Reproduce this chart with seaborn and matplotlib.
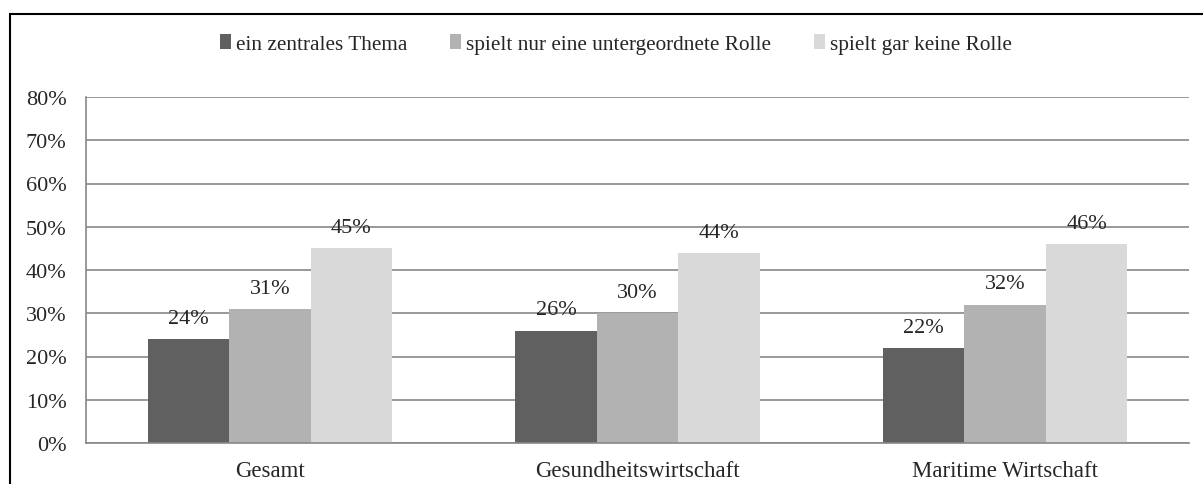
import pandas as pd
import seaborn as sns
import matplotlib.pyplot as plt
from matplotlib.patches import Rectangle

# chart values
groups = ['Gesamt', 'Gesundheitswirtschaft', 'Maritime Wirtschaft']
series = ['ein zentrales Thema', 'spielt nur eine untergeordnete Rolle', 'spielt gar keine Rolle']
zentral = [0.24, 0.26, 0.22]
untergeordnet = [0.31, 0.30, 0.32]
keine = [0.45, 0.44, 0.46]
colors = ['#606060', '#b2b2b2', '#d9d9d9']

df = pd.DataFrame({
    'group': groups * 3,
    'series': [series[0]] * 3 + [series[1]] * 3 + [series[2]] * 3,
    'value': zentral + untergeordnet + keine,
})

sns.set_style('white')
plt.rcParams['font.family'] = ['Liberation Serif', 'DejaVu Serif']

fig = plt.figure(figsize=(12.03, 4.85), dpi=100)
ax = fig.add_axes([86 / 1203, 1 - 444 / 485, (1189 - 86) / 1203, (444 - 98) / 485])

sns.barplot(data=df, x='group', y='value', hue='series', order=groups, hue_order=series,
            palette=colors, saturation=1, width=0.664, linewidth=0, ax=ax, legend=True)

# value labels
for cont in ax.containers:
    ax.bar_label(cont, labels=['%d%%' % round(v * 100) for v in cont.datavalues],
                 padding=8, fontsize=16)

ax.set_ylim(0, 0.8)
ax.set_xlim(-0.5, 2.5)
ax.set_yticks([i / 10 for i in range(9)])
ax.set_yticklabels(['%d%%' % (i * 10) for i in range(9)], fontsize=16)
ax.yaxis.grid(True, color='#888888', linewidth=1.2)
ax.set_axisbelow(True)
ax.tick_params(axis='y', length=6, color='#888888', width=1.2, pad=8)
ax.tick_params(axis='x', which='major', length=0, labelsize=16.5, pad=12)
ax.set_xticks([-0.5, 0.5, 1.5, 2.5], minor=True)
ax.tick_params(axis='x', which='minor', length=6, color='#888888', width=1.2, direction='out')
ax.set_xlabel('')
ax.set_ylabel('')
for s in ['top', 'right']:
    ax.spines[s].set_visible(False)
for s in ['left', 'bottom']:
    ax.spines[s].set_color('#888888')
    ax.spines[s].set_linewidth(1.2)

leg = ax.legend(loc='center', bbox_to_anchor=(616 / 1203, 1 - 45 / 485), bbox_transform=fig.transFigure,
                ncol=3, frameon=False, fontsize=15.3, handlelength=0.52, handleheight=0.72,
                handletextpad=0.25, columnspacing=2.0, borderpad=0)

# outer frame
fig.patches.append(Rectangle((10 / 1203, -0.05), 1.1, 1 - 15 / 485 + 0.05, transform=fig.transFigure,
                             fill=False, edgecolor='black', linewidth=1.5, clip_on=False))

fig.savefig('out.png', dpi=100)
